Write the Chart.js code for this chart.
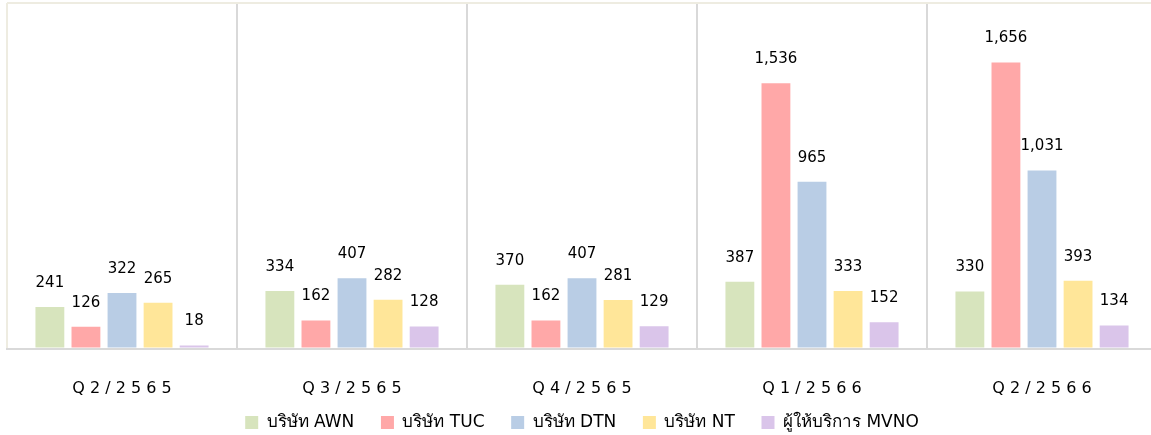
<!DOCTYPE html>
<html>
<head>
<meta charset="utf-8">
<script src="https://cdn.jsdelivr.net/npm/chart.js@4"></script>
<style>
  html, body { margin: 0; padding: 0; background: #fff; overflow: hidden; }
  #wrap { width: 1157px; height: 435px; }
</style>
</head>
<body>
<div id="wrap"><canvas id="chart"></canvas></div>
<script>
const categories = ['Q2/2565', 'Q3/2565', 'Q4/2565', 'Q1/2566', 'Q2/2566'];
const seriesNames = ['บริษัท AWN', 'บริษัท TUC', 'บริษัท DTN', 'บริษัท NT', 'ผู้ให้บริการ MVNO'];
const awn = [241, 334, 370, 387, 330];
const tuc = [126, 162, 162, 1536, 1656];
const dtn = [322, 407, 407, 965, 1031];
const nt = [265, 282, 281, 333, 393];
const mvno = [18, 128, 129, 152, 134];
const colors = ['#d7e4bd', '#ffa8a8', '#b9cde5', '#ffe699', '#dac5ea'];

const fontFamily = 'Tahoma, "DejaVu Sans", "Noto Sans", sans-serif';

// ตัวเลขบนแท่ง
const valueLabels = {
    id: 'valueLabels',
    afterDatasetsDraw(chart) {
        const ctx = chart.ctx;
        ctx.save();
        ctx.font = '15px ' + fontFamily;
        ctx.fillStyle = '#000';
        ctx.textAlign = 'center';
        ctx.textBaseline = 'middle';
        chart.data.datasets.forEach((ds, i) => {
            chart.getDatasetMeta(i).data.forEach((bar, j) => {
                ctx.fillText(ds.data[j].toLocaleString('en-US'), bar.x, bar.y - 24);
            });
        });
        ctx.restore();
    }
};

new Chart(document.getElementById('chart'), {
    type: 'bar',
    data: {
        labels: categories,
        datasets: [awn, tuc, dtn, nt, mvno].map((values, i) => ({
            // เว้นช่องไฟระหว่างรายการ legend
            label: i < 4 ? seriesNames[i] + '    ' : seriesNames[i],
            data: values,
            backgroundColor: colors[i],
            borderWidth: 0,
            categoryPercentage: 0.784,
            barPercentage: 0.8
        }))
    },
    options: {
        responsive: true,
        maintainAspectRatio: false,
        animation: false,
        layout: { padding: { left: 7, top: 3, right: 0, bottom: 0 } },
        scales: {
            x: {
                grid: {
                    offset: true,
                    drawTicks: false,
                    lineWidth: 2,
                    color: c => c.index === 0 ? '#eeece1' : '#d9d9d9'
                },
                border: { color: '#d9d9d9', width: 2 },
                ticks: {
                    padding: 11,
                    color: '#000',
                    font: { size: 16, family: fontFamily },
                    callback: function (v) { return ['', this.getLabelForValue(v).split('').join(' ')]; }
                }
            },
            y: {
                min: 0,
                max: 2000,
                ticks: { display: false, stepSize: 2000 },
                grid: {
                    drawTicks: false,
                    lineWidth: 2,
                    color: c => c.tick.value === 2000 ? '#eeece1' : '#d9d9d9'
                },
                border: { display: false }
            }
        },
        plugins: {
            legend: {
                position: 'bottom',
                maxHeight: 26,
                labels: {
                    boxWidth: 13,
                    boxHeight: 13,
                    padding: 5,
                    color: '#000',
                    font: { size: 17, family: fontFamily }
                }
            },
            tooltip: { enabled: false }
        }
    },
    plugins: [valueLabels]
});
</script>
</body>
</html>
